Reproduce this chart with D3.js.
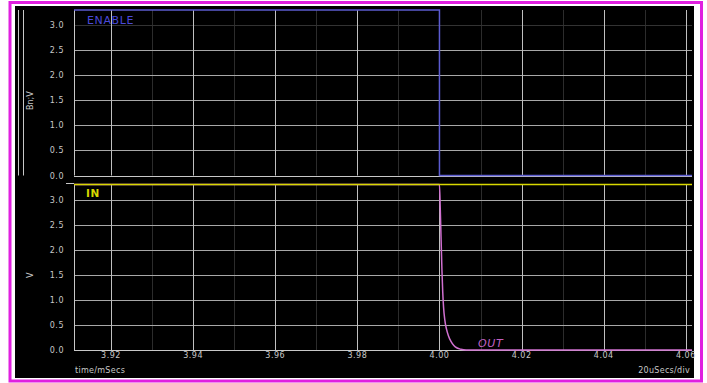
<!DOCTYPE html>
<html><head><meta charset="utf-8">
<script src="https://cdn.jsdelivr.net/npm/d3@7"></script>
<style>
html,body{margin:0;padding:0;background:#fff;}
svg{display:block;}
text{font-family:"DejaVu Sans",sans-serif;}
</style></head>
<body>
<svg id="chart" width="707" height="383"></svg>
<script>
// ---- data ----
const xTicks = [3.92, 3.94, 3.96, 3.98, 4.00, 4.02, 4.04, 4.06];
const xMinor = [3.93, 3.95, 3.97, 3.99, 4.01, 4.03, 4.05];
const yTicks = [0.0, 0.5, 1.0, 1.5, 2.0, 2.5, 3.0];
const enableT = [3.911, 4.000, 4.000, 4.0615];
const enableV = [3.3, 3.3, 0.0, 0.0];
const inT = [3.911, 4.0615];
const inV = [3.3, 3.3];
const outT = [3.911, 4.0000, 4.0002, 4.0004, 4.0006, 4.0008, 4.0010, 4.0013, 4.0017, 4.0022, 4.0028, 4.0035, 4.0043, 4.0052, 4.0065, 4.0615];
const outV = [3.3, 3.3, 2.8, 2.2, 1.6, 1.15, 0.85, 0.6, 0.42, 0.28, 0.17, 0.09, 0.04, 0.015, 0.0, 0.0];
const xLabelLeft = "time/mSecs";
const xLabelRight = "20uSecs/div";

const svg = d3.select("#chart");
// frame
svg.append("rect").attr("x", 0).attr("y", 0).attr("width", 707).attr("height", 383).attr("fill", "#fff");
svg.append("rect").attr("x", 10).attr("y", 2.5).attr("width", 691.5).attr("height", 378.5)
  .attr("fill", "#fff").attr("stroke", "#e020e0").attr("stroke-width", 3);
svg.append("rect").attr("x", 15).attr("y", 6).attr("width", 679).attr("height", 372).attr("fill", "#000");

const x = d3.scaleLinear().domain([3.911, 4.0615]).range([74, 692]);
const panels = [
  {top: 10, bottom: 175.5, label: "Bn;V"},
  {top: 184.5, bottom: 350, label: "V"}
];
panels.forEach(p => {
  p.y = d3.scaleLinear().domain([0, 3.3]).range([p.bottom, p.top]);
});

panels.forEach((p, i) => {
  const g = svg.append("g");
  // minor vertical grid
  g.selectAll(".vmin").data(xMinor).join("line")
    .attr("x1", d => Math.round(x(d)) + 0.5).attr("x2", d => Math.round(x(d)) + 0.5)
    .attr("y1", p.top).attr("y2", p.bottom).attr("stroke", "#2c2c2c").attr("stroke-width", 1);
  // horizontal grid
  g.selectAll(".hg").data(yTicks.filter(d => d > 0)).join("line")
    .attr("x1", 74).attr("x2", 692)
    .attr("y1", d => Math.round(p.y(d)) + 0.5).attr("y2", d => Math.round(p.y(d)) + 0.5)
    .attr("stroke", d => d === 3.0 && i === 0 ? "#333" : "#a8a8a8").attr("stroke-width", 1);
  // major vertical grid
  g.selectAll(".vmaj").data(xTicks).join("line")
    .attr("x1", d => Math.round(x(d)) + 0.5).attr("x2", d => Math.round(x(d)) + 0.5)
    .attr("y1", p.top).attr("y2", p.bottom).attr("stroke", "#c0c0c0").attr("stroke-width", 1);
  // axes lines
  g.append("line").attr("x1", 74.5).attr("x2", 74.5).attr("y1", p.top).attr("y2", p.bottom)
    .attr("stroke", "#c8c8c8");
  g.append("line").attr("x1", 74).attr("x2", 692).attr("y1", Math.round(p.bottom) + 0.5).attr("y2", Math.round(p.bottom) + 0.5)
    .attr("stroke", "#c8c8c8");
  // y tick labels
  g.selectAll(".yl").data(yTicks).join("text")
    .attr("x", 64).attr("y", d => p.y(d) + 3)
    .attr("text-anchor", "end").attr("fill", "#c8c8c8").attr("font-size", 8)
    .attr("letter-spacing", 0.5)
    .text(d => d3.format(".1f")(d));
  // y label
  g.append("text").attr("transform", `translate(33,${(p.top + p.bottom) / 2 + 8}) rotate(-90)`)
    .attr("text-anchor", "middle").attr("fill", "#c8c8c8").attr("font-size", 8).text(p.label);
});
// top tick at bottom panel start
svg.append("line").attr("x1", 66).attr("x2", 74).attr("y1", 183.5).attr("y2", 183.5).attr("stroke", "#c8c8c8");
// selection double lines
[18.5, 23.5].forEach(xx => svg.append("line").attr("x1", xx).attr("x2", xx).attr("y1", 10).attr("y2", 175.5)
  .attr("stroke", "#c8c8c8").attr("stroke-width", 1));

// x tick labels
svg.selectAll(".xl").data(xTicks).join("text")
  .attr("x", d => x(d)).attr("y", 358).attr("text-anchor", "middle")
  .attr("fill", "#c8c8c8").attr("font-size", 8).attr("letter-spacing", 0.5).text(d => d3.format(".2f")(d));
svg.append("text").attr("x", 75).attr("y", 373).attr("fill", "#c8c8c8").attr("font-size", 8)
  .attr("letter-spacing", 0.3).text(xLabelLeft);
svg.append("text").attr("x", 690).attr("y", 373).attr("text-anchor", "end").attr("fill", "#c8c8c8").attr("font-size", 8)
  .attr("letter-spacing", 0.3).text(xLabelRight);

// signals
const line0 = d3.line().x((d, i) => x(enableT[i])).y(d => panels[0].y(d));
svg.append("path").attr("d", line0(enableV)).attr("fill", "none").attr("stroke", "#5c5cd0").attr("stroke-width", 1.5);
const lineOut = d3.line().x((d, i) => x(outT[i])).y(d => panels[1].y(d)).curve(d3.curveMonotoneX);
svg.append("path").attr("d", lineOut(outV)).attr("fill", "none").attr("stroke", "#d070d0").attr("stroke-width", 1.5);
const lineIn = d3.line().x((d, i) => x(inT[i])).y(d => panels[1].y(d));
svg.append("path").attr("d", lineIn(inV)).attr("fill", "none").attr("stroke", "#d8d800").attr("stroke-width", 1.5);

svg.append("text").attr("x", 87).attr("y", 24).attr("fill", "#4a4ad8").attr("font-size", 11)
  .attr("letter-spacing", 0.6).text("ENABLE");
svg.append("text").attr("x", 86).attr("y", 197).attr("fill", "#d8d800").attr("font-size", 10.5)
  .attr("font-weight", "bold").attr("letter-spacing", 0.5).text("IN");
svg.append("text").attr("x", 478).attr("y", 347).attr("fill", "#c060c0").attr("font-size", 11)
  .attr("font-style", "italic").attr("letter-spacing", 0.6).text("OUT");
</script>
</body></html>
